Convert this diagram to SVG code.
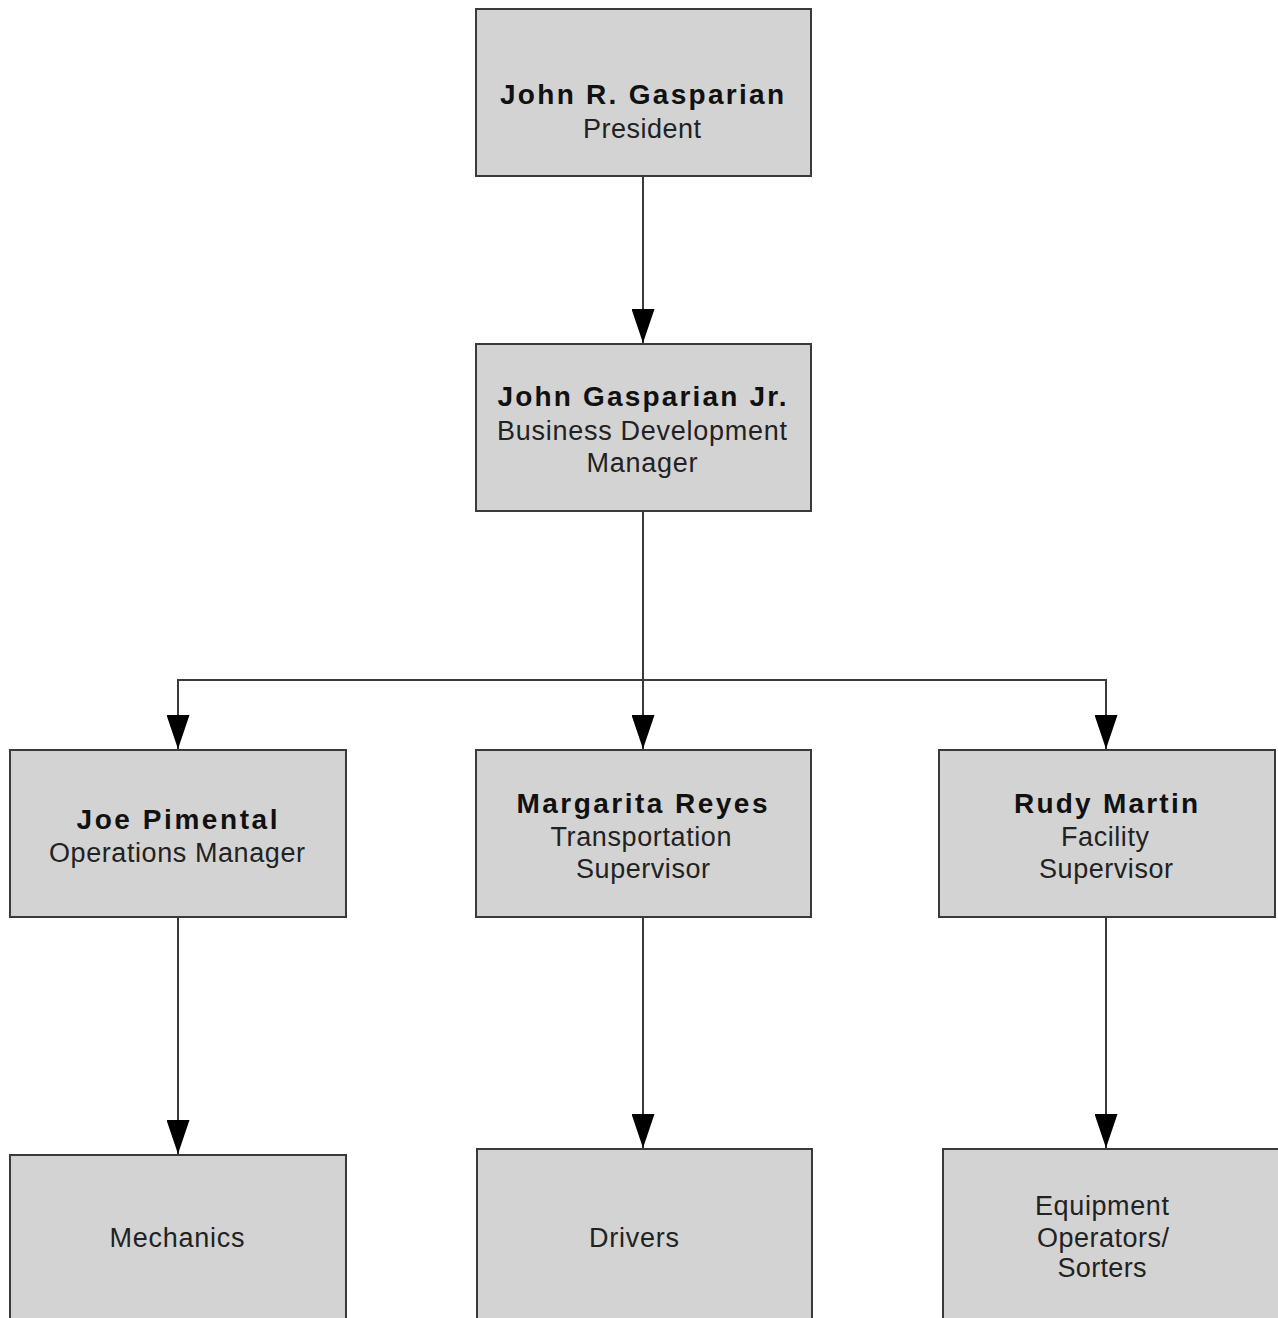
<svg xmlns="http://www.w3.org/2000/svg" width="1278" height="1318" viewBox="0 0 1278 1318">
<style>
.box{fill:#d3d3d3;stroke:#3a3a3a;stroke-width:2}
.n{font-family:"Liberation Sans",Arial,sans-serif;font-weight:bold;font-size:28px;fill:#111;text-anchor:middle}
.t{font-family:"Liberation Sans",Arial,sans-serif;font-size:27px;fill:#222;text-anchor:middle}
.c{fill:none;stroke:#3a3a3a;stroke-width:2}
</style>
<defs>
<marker id="ah" markerUnits="userSpaceOnUse" viewBox="0 -11.5 34 23" refX="34" refY="0" markerWidth="34" markerHeight="23" orient="auto">
<path d="M0,-11.5 L34,0 L0,11.5 z" fill="#000"/>
</marker>
</defs>
<rect width="1278" height="1318" fill="#fff"/>
<g id="connectors">
<line class="c" x1="643" y1="176" x2="643" y2="343" marker-end="url(#ah)"/>
<line class="c" x1="643" y1="511" x2="643" y2="749" marker-end="url(#ah)"/>
<polyline class="c" points="178,749 178,680 1106,680 1106,749"/>
<line class="c" x1="178" y1="680" x2="178" y2="749" marker-end="url(#ah)"/>
<line class="c" x1="1106" y1="680" x2="1106" y2="749" marker-end="url(#ah)"/>
<line class="c" x1="178" y1="917" x2="178" y2="1154" marker-end="url(#ah)"/>
<line class="c" x1="643" y1="917" x2="643" y2="1148" marker-end="url(#ah)"/>
<line class="c" x1="1106" y1="917" x2="1106" y2="1148" marker-end="url(#ah)"/>
</g>
<g id="president">
<rect class="box" x="476" y="9" width="335" height="167"/>
<text class="n" x="642" y="104" textLength="284" lengthAdjust="spacing">John R. Gasparian</text>
<text class="t" x="642" y="138" textLength="118" lengthAdjust="spacing">President</text>
</g>
<g id="bdm">
<rect class="box" x="476" y="344" width="335" height="167"/>
<text class="n" x="642" y="406" textLength="289" lengthAdjust="spacing">John Gasparian Jr.</text>
<text class="t" x="642" y="440" textLength="290" lengthAdjust="spacing">Business Development</text>
<text class="t" x="642" y="472" textLength="111" lengthAdjust="spacing">Manager</text>
</g>
<g id="ops">
<rect class="box" x="10" y="750" width="336" height="167"/>
<text class="n" x="177" y="829" textLength="201" lengthAdjust="spacing">Joe Pimental</text>
<text class="t" x="177" y="862" textLength="256" lengthAdjust="spacing">Operations Manager</text>
</g>
<g id="transport">
<rect class="box" x="476" y="750" width="335" height="167"/>
<text class="n" x="642" y="813" textLength="251" lengthAdjust="spacing">Margarita Reyes</text>
<text class="t" x="641" y="846" textLength="181" lengthAdjust="spacing">Transportation</text>
<text class="t" x="643" y="878" textLength="134" lengthAdjust="spacing">Supervisor</text>
</g>
<g id="facility">
<rect class="box" x="939" y="750" width="336" height="167"/>
<text class="n" x="1106" y="813" textLength="184" lengthAdjust="spacing">Rudy Martin</text>
<text class="t" x="1105" y="846" textLength="88" lengthAdjust="spacing">Facility</text>
<text class="t" x="1106" y="878" textLength="134" lengthAdjust="spacing">Supervisor</text>
</g>
<g id="mechanics">
<rect class="box" x="10" y="1155" width="336" height="175"/>
<text class="t" x="177" y="1247" textLength="135" lengthAdjust="spacing">Mechanics</text>
</g>
<g id="drivers">
<rect class="box" x="477" y="1149" width="335" height="180"/>
<text class="t" x="634" y="1247" textLength="90" lengthAdjust="spacing">Drivers</text>
</g>
<g id="operators">
<rect class="box" x="943" y="1149" width="340" height="180"/>
<text class="t" x="1102" y="1215" textLength="134" lengthAdjust="spacing">Equipment</text>
<text class="t" x="1103" y="1247" textLength="132" lengthAdjust="spacing">Operators/</text>
<text class="t" x="1102" y="1277" textLength="89" lengthAdjust="spacing">Sorters</text>
</g>
</svg>
